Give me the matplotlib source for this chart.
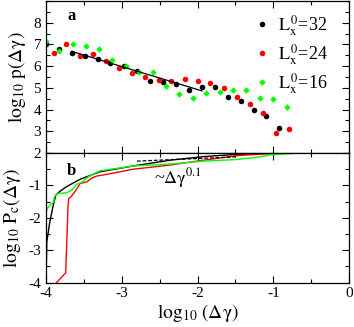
import numpy as np
import matplotlib.pyplot as plt
from matplotlib.ticker import MultipleLocator

plt.rcParams['font.family'] = ['Liberation Serif', 'DejaVu Serif']
plt.rcParams['mathtext.fontset'] = 'stix'

# -------------------- data --------------------

# panel a: log10 p(dgamma)
x32 = [-4.0, -3.825, -3.66, -3.48, -3.31, -3.15, -2.975, -2.80, -2.63, -2.46,
       -2.285, -2.11, -1.94, -1.775, -1.60, -1.43, -1.256, -1.09, -0.92]
y32 = [7.0, 6.78, 6.62, 6.45, 6.33, 6.16, 5.99, 5.78, 5.30, 5.29,
       5.17, 4.92, 5.04, 5.04, 4.57, 4.40, 3.97, 3.71, 3.16]

x24 = [-3.89, -3.73, -3.55, -3.38, -3.21, -3.04, -2.86, -2.69, -2.51, -2.35,
       -2.17, -2.00, -1.83, -1.65, -1.48, -1.31, -1.13, -0.96, -0.79]
y24 = [6.60, 7.01, 6.45, 6.54, 6.25, 5.91, 5.67, 5.52, 5.36, 5.30,
       5.39, 5.32, 5.22, 5.00, 4.57, 4.28, 3.85, 2.90, 3.11]

x16 = [-4.0, -3.83, -3.65, -3.47, -3.30, -3.125, -2.95, -2.77, -2.59, -2.42,
       -2.24, -2.06, -1.885, -1.71, -1.53, -1.36, -1.18, -1.0, -0.825]
y16 = [7.14, 6.72, 7.03, 6.95, 6.78, 6.30, 5.99, 5.72, 5.73, 5.09,
       4.74, 4.55, 4.77, 4.81, 4.92, 4.92, 4.55, 4.48, 4.10]

fit_x = [-3.66, -1.94]
fit_y = [6.68, 4.86]

# panel b: log10 Pc(dgamma)
pc32_x = [-4.0, -3.99, -3.95, -3.90, -3.87, -3.815, -3.73, -3.55, -3.29, -2.85,
          -2.36, -1.92, -1.48, -1.04, -0.6]
pc32_y = [-4.0, -2.75, -2.13, -1.56, -1.30, -1.18, -1.04, -0.81, -0.58, -0.40,
          -0.22, -0.11, -0.04, 0.0, 0.0]

pc24_x = [-3.90, -3.74, -3.71, -3.70, -3.67, -3.62, -3.55, -3.46, -3.40, -3.33,
          -3.20, -2.85, -2.36, -1.92, -1.48, -1.04, -0.6]
pc24_y = [-4.1, -3.7, -1.66, -1.40, -1.35, -1.20, -0.94, -0.89, -0.78, -0.71,
          -0.66, -0.50, -0.37, -0.22, -0.08, -0.02, 0.0]

pc16_x = [-4.0, -4.0, -3.97, -3.90, -3.89, -3.84, -3.73, -3.66, -3.60, -3.53,
          -3.44, -3.29, -2.85, -2.36, -1.92, -1.48, -1.18, -1.04, -0.65]
pc16_y = [-4.0, -1.82, -1.66, -1.51, -1.35, -1.25, -1.23, -1.15, -0.97, -0.91,
          -0.73, -0.55, -0.40, -0.34, -0.25, -0.20, -0.12, -0.06, 0.0]

slope_x = [-2.8, -1.5]
slope_y = [-0.25, -0.12]

labels = [r'$\mathrm{L_x^{\,0}}$=32', r'$\mathrm{L_x^{\,0}}$=24', r'$\mathrm{L_x^{\,0}}$=16']
xticks = [-4, -3, -2, -1, 0]
xticklabels = ['-4', '-3', '-2', '-1', '0']

# -------------------- figure --------------------

fig = plt.figure(figsize=(3.54, 3.27), dpi=100)
ax1 = fig.add_axes([0.130, 0.532, 0.856, 0.465])
ax2 = fig.add_axes([0.130, 0.136, 0.856, 0.396])

ax1.plot(x32, y32, 'o', color='black', ms=4, mec='none', label=labels[0])
ax1.plot(x24, y24, 'o', color='red', ms=4, mec='none', label=labels[1])
ax1.plot(x16, y16, 'D', color='#00ff00', ms=3.3, mec='none', label=labels[2])
ax1.plot(fit_x, fit_y, '-', color='black', lw=0.9)

ax2.plot(pc32_x, pc32_y, '-', color='black', lw=1.0)
ax2.plot(pc24_x, pc24_y, '-', color='red', lw=1.0)
ax2.plot(pc16_x, pc16_y, '-', color='#00ff00', lw=1.0)
ax2.plot(slope_x, slope_y, '--', color='black', lw=0.9, dashes=(3, 1.5))

for ax in (ax1, ax2):
    ax.set_xticks(xticks)
    ax.xaxis.set_minor_locator(MultipleLocator(0.5))
    ax.yaxis.set_minor_locator(MultipleLocator(0.5))
    ax.set_xlim(-4, 0)
    ax.tick_params(which='both', direction='in', top=True, right=True, labelsize=11)
    ax.tick_params(which='major', length=5, width=0.8)
    ax.tick_params(which='minor', length=3, width=0.8)
    for s in ax.spines.values():
        s.set_linewidth(0.9)

ax1.set_yticks([2, 3, 4, 5, 6, 7, 8])
ax1.set_ylim(2, 9)
ax1.tick_params(labelbottom=False)
ax2.set_yticks([-4, -3, -2, -1, 0])
ax2.set_yticklabels(['-4', '-3', '-2', '-1', ''])
ax2.set_ylim(-4, 0)
ax2.set_xticklabels(xticklabels)

ax1.set_ylabel(r'$\mathrm{log_{10}\ p(\Delta\gamma)}$', fontsize=14, labelpad=4)
ax2.set_ylabel(r'$\mathrm{log_{10}\ P_c(\Delta\gamma)}$', fontsize=14, labelpad=4)
ax2.set_xlabel(r'$\mathrm{log_{10}\ (\Delta\gamma)}$', fontsize=14, labelpad=1)

ax1.text(-3.72, 8.3, 'a', fontsize=12, fontweight='bold', va='center')
ax2.text(-3.72, -0.55, 'b', fontsize=12, fontweight='bold', va='center')
ax2.text(-2.58, -0.95, r'~$\mathrm{\Delta\gamma^{0.1}}$', fontsize=13)

ax1.legend(loc='upper right', frameon=False, fontsize=13, handletextpad=0.3,
           borderaxespad=0.0, labelspacing=0.25, markerscale=1.0,
           bbox_to_anchor=(0.955, 0.97), handlelength=1.2)

fig.savefig('out.png', dpi=100)
